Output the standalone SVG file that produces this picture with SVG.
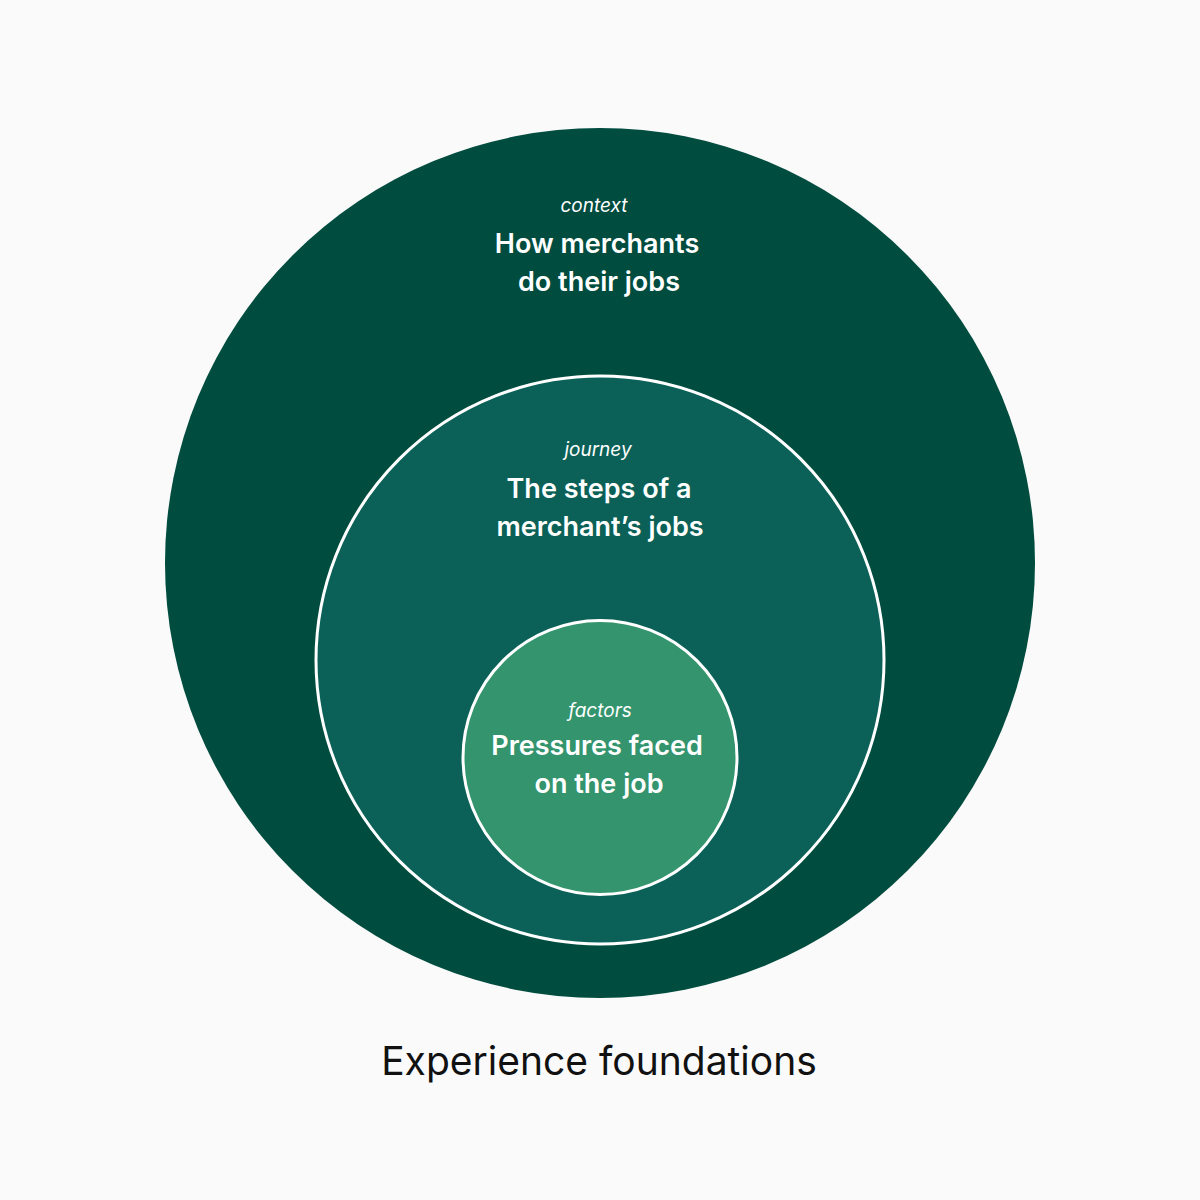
<svg xmlns="http://www.w3.org/2000/svg" width="1200" height="1200" viewBox="0 0 1200 1200">
<style>
.lbl{font-family:Inter,"Noto Sans",sans-serif;font-style:italic;font-size:19px;fill:#ffffff;text-anchor:middle}
.ttl{font-family:Inter,"Noto Sans",sans-serif;font-weight:600;font-size:27px;fill:#ffffff;text-anchor:middle}
.cap{font-family:Inter,"Noto Sans",sans-serif;font-size:39px;fill:#111111;text-anchor:middle}
</style>
<rect width="1200" height="1200" fill="#fafafa"/>
<g id="context">
<circle cx="600" cy="563" r="435" fill="#004c3f"/>
<text class="lbl" x="594" y="212">context</text>
<text class="ttl" x="597" y="253">How merchants</text>
<text class="ttl" x="599" y="291">do their jobs</text>
</g>
<g id="journey">
<circle cx="600" cy="660" r="284" fill="#0b6157" stroke="#ffffff" stroke-width="3"/>
<text class="lbl" x="598" y="456">journey</text>
<text class="ttl" x="599" y="498">The steps of a</text>
<text class="ttl" x="600" y="536">merchant’s jobs</text>
</g>
<g id="factors">
<circle cx="600" cy="757.5" r="137" fill="#33946e" stroke="#ffffff" stroke-width="3"/>
<text class="lbl" x="600" y="717">factors</text>
<text class="ttl" x="597" y="755">Pressures faced</text>
<text class="ttl" x="599" y="793">on the job</text>
</g>
<g id="connectors"></g>
<text class="cap" x="599" y="1075">Experience foundations</text>
</svg>
